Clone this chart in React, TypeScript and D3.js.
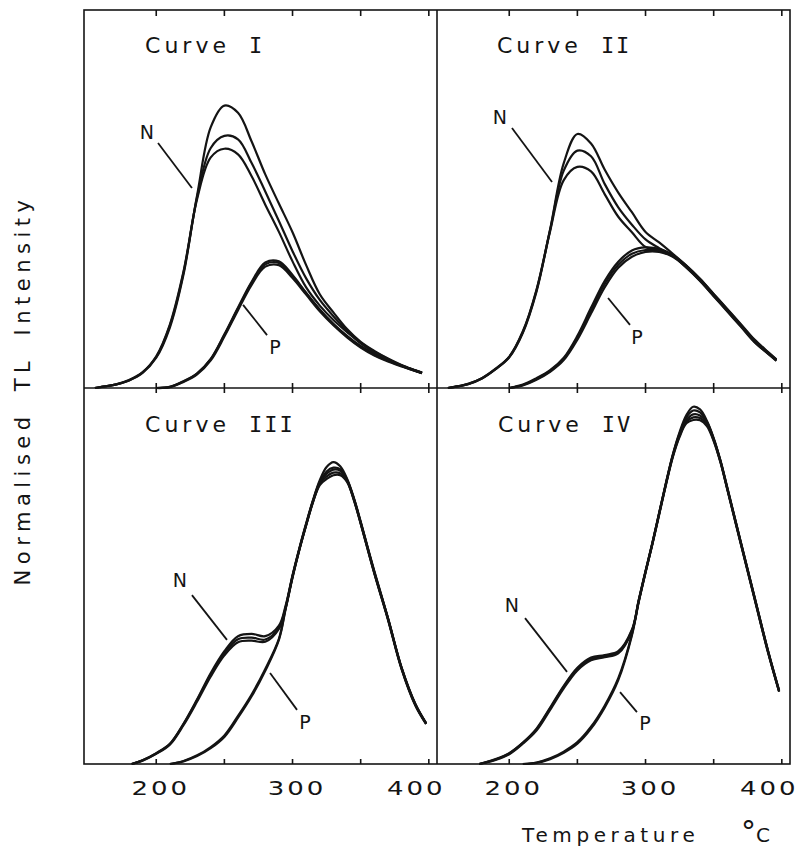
import React, { useEffect, useRef } from 'react';
import * as d3 from 'd3';

const tempsI = [155, 160, 170, 180, 190, 200, 210, 220, 230, 240, 250, 260, 270, 280, 290, 300, 310, 320, 330, 340, 350, 360, 370, 380, 390, 395];
const tempsII = [155, 160, 170, 180, 190, 200, 210, 220, 230, 240, 250, 260, 270, 280, 290, 300, 310, 320, 330, 340, 350, 360, 370, 380, 390, 396];
const tempsIII = [182, 190, 200, 210, 220, 230, 240, 250, 260, 270, 280, 290, 295, 300, 305, 310, 315, 320, 325, 330, 335, 340, 345, 350, 360, 370, 380, 390, 398];
const tempsIV = [178, 190, 200, 210, 220, 230, 240, 250, 260, 270, 280, 290, 295, 300, 305, 310, 315, 320, 325, 330, 335, 340, 345, 350, 355, 360, 370, 380, 390, 398];

// Normalised TL intensity (% of panel height). N = natural, P = after treatment.
const curveI_N = [
  [0, 0.3, 0.9, 2.0, 4.1, 8.2, 16.5, 30.5, 51, 69, 74.7, 72.8, 65.2, 56.5, 48.8, 41.2, 32.5, 24.8, 20, 15.6, 12.2, 9.8, 7.8, 6.1, 4.7, 4.0],
  [0, 0.3, 0.9, 2.0, 4.0, 8.0, 16.0, 30.0, 50.5, 63.5, 66.7, 65.8, 59.5, 52, 44.2, 36.2, 29, 23.3, 19, 15.2, 12, 9.6, 7.7, 6, 4.6, 4.0],
  [0, 0.3, 0.9, 2.1, 4.2, 8.4, 16.8, 30.8, 50, 61, 63.3, 61.8, 56, 48.5, 41.3, 33.5, 26.6, 21.8, 18, 14.8, 11.8, 9.4, 7.5, 5.9, 4.5, 3.9],
];
const curveI_P = [
  [null, null, null, null, null, 0, 0.3, 1.8, 3.9, 7.7, 14.2, 21.3, 28.1, 33.2, 33.5, 29.9, 25.2, 20.8, 17, 13.8, 11.1, 9, 7.4, 5.9, 4.7, 4.1],
  [null, null, null, null, null, 0, 0.3, 1.7, 3.8, 7.6, 14, 21, 27.8, 32.7, 33.1, 29.6, 25, 20.6, 16.8, 13.6, 10.9, 8.8, 7.2, 5.8, 4.6, 4.0],
  [null, null, null, null, null, 0, 0.2, 1.6, 3.6, 7.3, 13.6, 20.6, 27.3, 32.1, 32.5, 29.1, 24.7, 20.3, 16.6, 13.4, 10.7, 8.6, 7.0, 5.7, 4.5, 3.9],
];

const curveII_N = [
  [0, 0.3, 1.1, 2.6, 5.1, 8.3, 15, 26, 42, 59.5, 67.2, 64.7, 57.8, 51.7, 46.5, 41.3, 38.5, 35.5, 32.4, 28.9, 24.9, 20.9, 16.9, 12.8, 9.5, 7.6],
  [0, 0.3, 1.1, 2.6, 5.0, 8.2, 14.8, 25.8, 41.8, 57.5, 62.8, 61.3, 54, 47.8, 43.2, 39.3, 37, 35, 32.1, 28.6, 24.6, 20.5, 16.5, 12.4, 9.2, 7.4],
  [0, 0.3, 1.0, 2.5, 5.0, 8.1, 14.6, 25.5, 41.5, 55, 58.5, 57.3, 51.3, 45.3, 41.2, 37.3, 36.4, 34.9, 31.8, 28.3, 24.3, 20.2, 16.2, 12.1, 9.0, 7.2],
];
const curveII_P = [
  [null, null, null, null, null, 0, 0.9, 2.6, 4.7, 8.0, 13.8, 21.2, 28.3, 33.4, 36.4, 37.2, 36.8, 35.2, 32.3, 28.8, 24.8, 20.8, 16.7, 12.6, 9.4, 7.5],
  [null, null, null, null, null, 0, 0.8, 2.4, 4.5, 7.7, 13.3, 20.4, 27.5, 32.6, 35.5, 36.5, 36.3, 34.9, 32.1, 28.6, 24.6, 20.6, 16.6, 12.4, 9.2, 7.4],
  [null, null, null, null, null, 0, 0.7, 2.2, 4.3, 7.4, 12.8, 19.7, 26.6, 31.8, 34.7, 36.0, 36.0, 34.7, 31.9, 28.4, 24.4, 20.4, 16.4, 12.2, 9.1, 7.3],
];

const curveIII_N = [
  [0, 1.0, 2.9, 5.4, 10.7, 17.2, 24.2, 30.0, 34.0, 34.6, 34.0, 36.8, 42.2, 50.2, 57.4, 64.0, 70.2, 75.5, 79.0, 80.3, 79.2, 75.9, 70.8, 64.5, 51.3, 38.9, 25.7, 16.1, 10.9],
  [0, 1.0, 2.8, 5.3, 10.6, 17.0, 23.8, 29.5, 33.2, 33.6, 33.1, 36.3, 41.8, 50.0, 57.2, 63.8, 70.0, 75.0, 77.2, 78.3, 78.0, 75.5, 70.5, 64.2, 51.0, 38.7, 25.5, 15.9, 10.8],
  [0, 0.9, 2.7, 5.1, 10.3, 16.6, 23.3, 28.9, 32.4, 32.8, 32.5, 35.9, 41.5, 49.7, 57.0, 63.5, 69.6, 74.2, 75.8, 76.8, 76.8, 75.0, 70.2, 63.9, 50.7, 38.4, 25.2, 15.6, 10.6],
];
const curveIII_P = [
  [null, null, null, 0, 0.8, 2.3, 4.5, 7.6, 12.8, 18.5, 25.3, 33.3, 41.6, 49.9, 57.1, 63.7, 69.9, 74.8, 77.8, 78.8, 78.4, 75.6, 70.6, 64.3, 51.1, 38.8, 25.6, 16.0, 10.8],
  [null, null, null, 0, 0.7, 2.1, 4.2, 7.2, 12.3, 18.0, 24.8, 33.0, 41.3, 49.6, 56.9, 63.5, 69.7, 74.5, 76.5, 77.5, 77.3, 75.2, 70.3, 64.0, 50.8, 38.6, 25.4, 15.8, 10.7],
];

const curveIV_N = [
  [0, 1.3, 2.9, 5.7, 9.4, 15.0, 20.8, 25.6, 28.3, 29.0, 30.0, 35.7, 43.6, 51.3, 58.8, 66.8, 74.8, 82.3, 88.3, 92.8, 95.0, 94.3, 91.3, 86.7, 80.7, 73.5, 58.9, 44.4, 30.0, 19.6],
  [0, 1.2, 2.8, 5.6, 9.2, 14.8, 20.5, 25.3, 28.0, 28.7, 29.7, 35.5, 43.4, 51.1, 58.6, 66.6, 74.6, 82.0, 87.6, 91.5, 93.0, 92.7, 90.8, 86.4, 80.5, 73.3, 58.7, 44.2, 29.8, 19.4],
  [0, 1.1, 2.6, 5.4, 8.9, 14.4, 20.1, 24.9, 27.6, 28.4, 29.4, 35.3, 43.2, 50.9, 58.4, 66.3, 74.3, 81.6, 87.0, 90.6, 91.5, 91.4, 89.9, 85.9, 80.2, 73.0, 58.4, 43.9, 29.5, 19.2],
];
const curveIV_P = [
  [null, null, null, 0, 0.4, 1.5, 3.3, 5.8, 9.9, 15.5, 22.8, 34.5, 43.4, 51.2, 58.7, 66.7, 74.7, 82.1, 87.9, 92.2, 94.0, 93.5, 91.0, 86.5, 80.6, 73.4, 58.8, 44.3, 29.9, 19.5],
  [null, null, null, 0, 0.3, 1.3, 3.0, 5.4, 9.4, 15.0, 22.3, 34.2, 43.1, 51.0, 58.5, 66.5, 74.4, 81.8, 87.3, 91.0, 92.2, 92.0, 90.3, 86.1, 80.3, 73.1, 58.5, 44.0, 29.6, 19.3],
];

const xTicks = [200, 250, 300, 350, 400];
const xTickLabels = [200, 300, 400];

// annotation anchors, in data units (°C, intensity)
const titleAt = [[191.8, 88.6], [191, 88.6], [191.8, 88.3], [191.7, 88.3]];
const nLabelAt = [[193.2, 67.7], [193.2, 71.7], [217.4, 48.9], [202, 42.3]];
const nLeader = [
  [[201.3, 64.8], [226.2, 52.9]],
  [[202, 68.8], [231.4, 54.5]],
  [[226.2, 44.9], [251.9, 33]],
  [[211.6, 38.8], [242.4, 24.5]],
];
const pLabelAt = [[287.1, 10.8], [293.7, 13.5], [309.1, 11.2], [299.6, 10.9]];
const pLeader = [
  [[263.7, 22], [281.3, 14]],
  [[272.5, 23.8], [288.6, 16.7]],
  [[283.5, 24.2], [303.3, 14.4]],
  [[281.3, 19.1], [293.7, 13.8]],
];
const numerals = ['I', 'II', 'III', 'IV'];

const panels = [
  { col: 0, row: 0, temps: tempsI, n: curveI_N, p: curveI_P },
  { col: 1, row: 0, temps: tempsII, n: curveII_N, p: curveII_P },
  { col: 0, row: 1, temps: tempsIII, n: curveIII_N, p: curveIII_P },
  { col: 1, row: 1, temps: tempsIV, n: curveIV_N, p: curveIV_P },
];

const App: React.FC = () => {
  const svgRef = useRef<SVGSVGElement>(null);

  useEffect(() => {
    if (!svgRef.current) return;
    const svg = d3.select(svgRef.current);
    svg.selectAll('*').remove();

    const ink = '#141414';
    const sans = '"DejaVu Sans", sans-serif';
    const mono = '"DejaVu Sans Mono", monospace';

    // frame geometry
    const left = 84, split = 437, right = 790;
    const top = 10, midY = 388, bottom = 764;
    const cols: [number, number][] = [[left, split], [split, right]];
    const rows: [number, number][] = [[midY, top], [bottom, midY]];

    svg.append('rect')
      .attr('x', left).attr('y', top)
      .attr('width', right - left).attr('height', bottom - top)
      .attr('fill', 'none').attr('stroke', ink).attr('stroke-width', 1.6);
    svg.append('line')
      .attr('x1', split).attr('x2', split).attr('y1', top).attr('y2', bottom)
      .attr('stroke', ink).attr('stroke-width', 1.6);
    svg.append('line')
      .attr('x1', left).attr('x2', right).attr('y1', midY).attr('y2', midY)
      .attr('stroke', ink).attr('stroke-width', 1.6);

    panels.forEach((p, k) => {
      const x = d3.scaleLinear().domain([147, 406]).range(cols[p.col]);
      const y = d3.scaleLinear().domain([0, 100]).range(rows[p.row]);
      const g = svg.append('g');

      // ticks: inward at the outer edges, crossing on the shared middle line
      xTicks.forEach(t => {
        const segs: [number, number][] = p.row === 0
          ? [[top, top + 6], [midY - 5, midY + 5]]
          : [[bottom - 5, bottom]];
        segs.forEach(([a, b]) => {
          g.append('line')
            .attr('x1', x(t)).attr('x2', x(t))
            .attr('y1', a).attr('y2', b)
            .attr('stroke', ink).attr('stroke-width', 1.6);
        });
      });

      if (p.row === 1) {
        xTickLabels.forEach(t => {
          // the 400 label sits pulled in from its tick, as in the print
          const nudge = t === 400 ? -14 : 3;
          g.append('text')
            .attr('transform', `translate(${x(t) + nudge + 1.5}, ${bottom + 31}) scale(1.3, 1)`)
            .attr('text-anchor', 'middle')
            .attr('font-family', sans)
            .attr('font-size', 20)
            .attr('letter-spacing', 2.3)
            .attr('fill', ink)
            .text(String(t));
        });
      }

      const line = d3.line<number | null>()
        .defined(v => v != null)
        .x((_, i) => x(p.temps[i]))
        .y(v => y(v as number))
        .curve(d3.curveCatmullRom.alpha(0.5));

      [...p.p, ...p.n].forEach(s => {
        g.append('path')
          .attr('d', line(s as (number | null)[]) || '')
          .attr('fill', 'none')
          .attr('stroke', ink)
          .attr('stroke-width', 2.2)
          .attr('stroke-linejoin', 'round');
      });

      // title
      const title = g.append('text')
        .attr('x', x(titleAt[k][0]))
        .attr('y', y(titleAt[k][1]))
        .attr('font-family', sans)
        .attr('font-size', 22)
        .attr('letter-spacing', 4)
        .attr('fill', ink);
      title.append('tspan').text('Curve');
      title.append('tspan')
        .attr('dx', 19)
        .attr('font-family', mono)
        .attr('letter-spacing', 2)
        .text(numerals[k]);

      // N / P labels with leader lines
      const leaders = [nLeader[k], pLeader[k]];
      leaders.forEach(seg => {
        g.append('line')
          .attr('x1', x(seg[0][0])).attr('y1', y(seg[0][1]))
          .attr('x2', x(seg[1][0])).attr('y2', y(seg[1][1]))
          .attr('stroke', ink).attr('stroke-width', 1.8);
      });
      [[nLabelAt[k], 'N'], [pLabelAt[k], 'P']].forEach(([pos, txt]) => {
        const [tx, ty] = pos as number[];
        g.append('text')
          .attr('x', x(tx)).attr('y', y(ty))
          .attr('text-anchor', 'middle')
          .attr('dominant-baseline', 'central')
          .attr('font-family', sans)
          .attr('font-size', 19)
          .attr('fill', ink)
          .text(txt as string);
      });
    });

    // axis titles
    svg.append('text')
      .attr('transform', `translate(30, ${(top + bottom) / 2 + 3}) rotate(-90)`)
      .attr('text-anchor', 'middle')
      .attr('font-family', sans)
      .attr('font-size', 21)
      .attr('letter-spacing', 5.5)
      .attr('word-spacing', 8)
      .attr('fill', ink)
      .text('Normalised TL Intensity');

    svg.append('text')
      .attr('x', 522).attr('y', bottom + 78)
      .attr('font-family', sans)
      .attr('font-size', 20)
      .attr('letter-spacing', 4.6)
      .attr('fill', ink)
      .text('Temperature');
    const unit = svg.append('text')
      .attr('x', 741).attr('y', bottom + 78)
      .attr('font-family', sans)
      .attr('fill', ink);
    unit.append('tspan').attr('font-size', 30).text('°');
    unit.append('tspan').attr('font-size', 20).text('C');
  }, []);

  return (
    <div style={{ position: 'absolute', left: 0, top: 0, background: '#fff' }}>
      <svg ref={svgRef} width={799} height={851} style={{ display: 'block' }} />
    </div>
  );
};

export default App;
